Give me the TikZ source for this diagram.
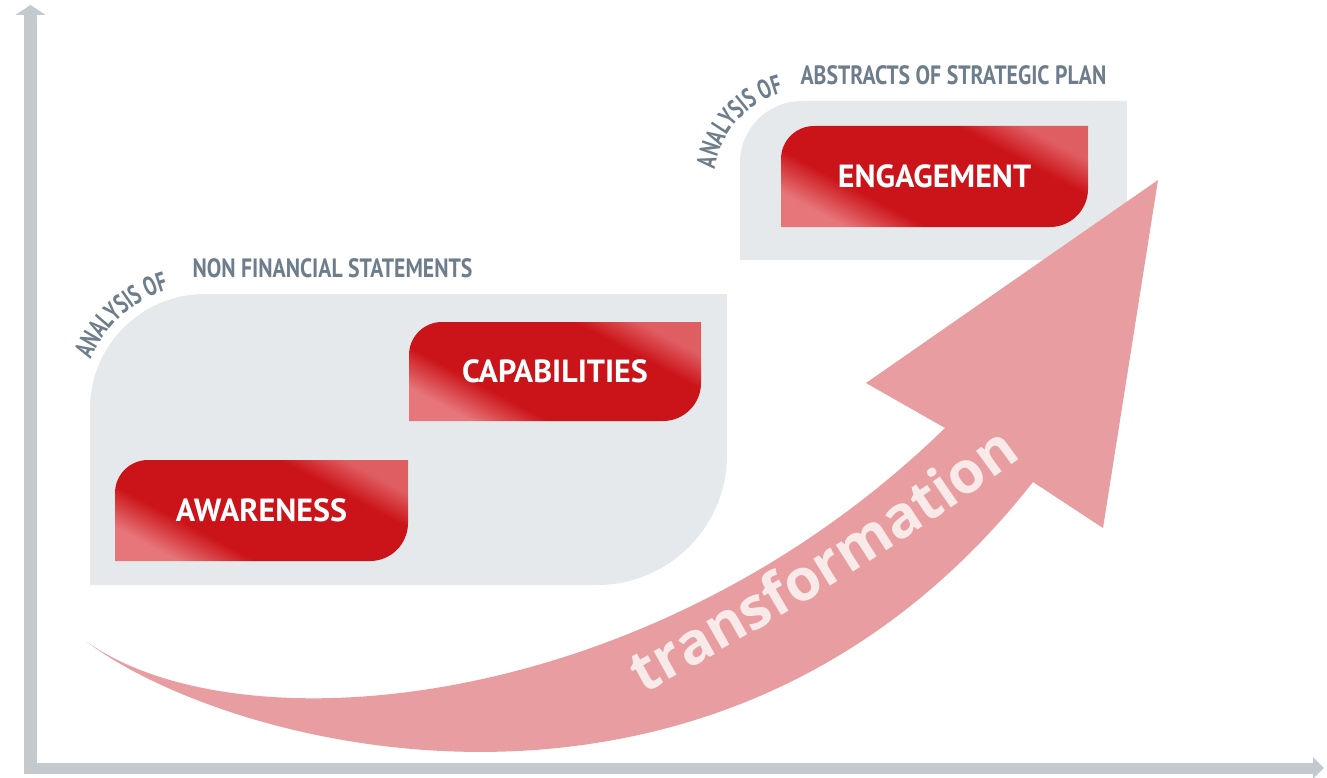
\documentclass[tikz,border=0pt]{standalone}
\usepackage{fontspec}
\setmainfont{PT Sans}
\newfontfamily\graycond[FakeStretch=0.82]{PT Sans}
\newfontfamily\arcfont[FakeStretch=0.7]{PT Sans}
\newfontfamily\boxfont{PT Sans}
\newfontfamily\transfont{Open Sans}
\usetikzlibrary{arrows.meta,decorations.text}
\definecolor{axisgray}{HTML}{C4C9CE}
\definecolor{regiongray}{HTML}{E6E9EC}
\definecolor{reddark}{HTML}{CB1419}
\definecolor{redlight}{HTML}{E6767A}
\definecolor{labelgray}{HTML}{6E7D8B}
\definecolor{arrowpink}{HTML}{E89DA0}
\definecolor{transwhite}{HTML}{F9EAEA}
\pgfdeclarehorizontalshading{redband}{100bp}{color(0bp)=(redlight); color(25bp)=(redlight); color(36bp)=(reddark); color(66bp)=(reddark); color(75bp)=(redlight!75!reddark); color(100bp)=(redlight!75!reddark)}
\tikzset{
  leaf/.style n args={6}{insert path={(#1,-#4) -- (#1,{-#2-#5}) arc[start angle=180,end angle=90,radius=#5] -- (#3,-#2) -- (#3,{-#4+#6}) arc[start angle=0,end angle=-90,radius=#6] -- cycle}},
  region/.style={fill=regiongray},
  redbox/.style={shading=redband, shading angle=62},
  boxlabel/.style={text=white, font=\boxfont\bfseries\fontsize{32}{32}\selectfont},
  graylabel/.style={text=labelgray, anchor=base west, font=\graycond\bfseries\fontsize{26.5}{26.5}\selectfont},
  axisline/.style={draw=axisgray, line width=13pt, line cap=butt},
}
\begin{document}
\begin{tikzpicture}[x=1pt,y=1pt]
\useasboundingbox (0,0) rectangle (1327,-778);
\fill[white] (0,0) rectangle (1327,-778);
% axes
\coordinate (origin) at (24,-768);
\coordinate (ytop) at (30.5,-5);
\coordinate (xend) at (1324,-768);
\draw[axisline, -{Triangle[length=10pt,width=30pt]}] (30.5,-774) -- (ytop);
\draw[axisline, line width=11pt, -{Triangle[length=11pt,width=21pt]}] (origin) -- (xend);
% gray regions
\path[region, leaf={90}{294}{727}{585}{115}{130}];
\path[region, leaf={740}{101}{1127}{260}{62}{60}];
% red boxes
\shade[redbox, leaf={115}{460}{408}{561}{33}{38}];
\shade[redbox, leaf={409}{322}{701}{421}{33}{38}];
\shade[redbox, leaf={781}{126}{1088}{227}{33}{38}];
\node[boxlabel] (aw) at (261.5,-510.5) {AWARENESS};
\node[boxlabel] (cap) at (555,-371.5) {CAPABILITIES};
\node[boxlabel] (eng) at (934.5,-176.5) {ENGAGEMENT};
% gray labels
\node[graylabel] (nfs) at (189,-277) {NON FINANCIAL STATEMENTS};
\node[graylabel] (asp) at (797,-85) {ABSTRACTS OF STRATEGIC PLAN};
\path[decorate, decoration={text along path, text={|\arcfont\bfseries\fontsize{27}{27}\selectfont\color{labelgray}|ANALYSIS OF}}]
  ([shift={(202,-405)}]158:120) arc[start angle=158, end angle=60, radius=120];
\path[decorate, decoration={text along path, text={|\arcfont\bfseries\fontsize{27}{27}\selectfont\color{labelgray}|ANALYSIS OF}}]
  ([shift={(806,-182)}]172:92) arc[start angle=172, end angle=50, radius=92];
% transformation arrow
\coordinate (tail) at (87,-642);
\coordinate (notchup) at (945,-428);
\coordinate (barbleft) at (866,-383);
\coordinate (tip) at (1158,-180);
\coordinate (barbright) at (1103,-528);
\coordinate (notchlow) at (1033,-482);
\fill[arrowpink] (tail) .. controls (240,-750) and (650,-715) .. (notchup) -- (barbleft) -- (tip) -- (barbright) -- (notchlow) .. controls (720,-880) and (230,-750) .. (tail) -- cycle;
\path[decorate, decoration={text along path, text={|\transfont\bfseries\fontsize{58}{58}\selectfont\color{transwhite}|transformation}}]
  (643,-694) .. controls (760,-630) and (900,-550) .. (1045,-440);
\end{tikzpicture}
\end{document}
